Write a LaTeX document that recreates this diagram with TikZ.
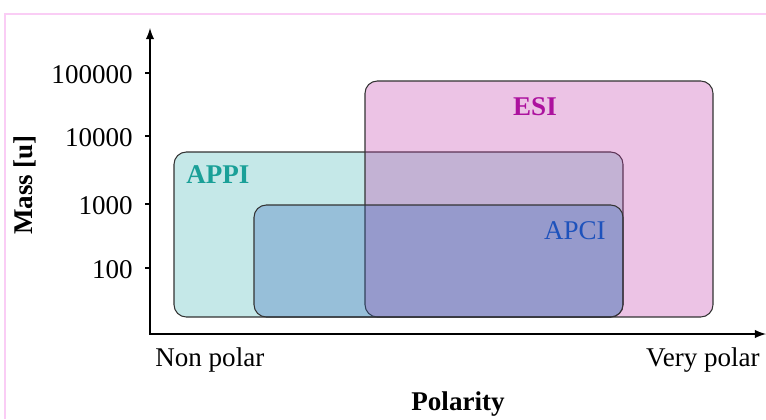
\documentclass[tikz,border=0pt]{standalone}
\usepackage{fontspec}
\setmainfont{Liberation Serif}
\usetikzlibrary{arrows}

\definecolor{appifill}{RGB}{62,178,178}
\definecolor{esifill}{RGB}{192,55,168}
\definecolor{apcifill}{RGB}{47,99,185}
\definecolor{appitext}{RGB}{26,160,152}
\definecolor{esitext}{RGB}{172,18,158}
\definecolor{apcitext}{RGB}{30,82,188}
\definecolor{framepink}{RGB}{250,205,245}

\newcommand{\chartfont}{\fontsize{15.4}{18}\selectfont}

\tikzstyle{region} = [
    rounded corners=7pt,
    draw=black!80,
    line width=0.6pt,
    fill opacity=0.3
]
\tikzstyle{axis} = [line width=1.2pt, latex-latex]
\tikzstyle{ticklabel} = [anchor=east, inner sep=0pt]
\tikzstyle{axislabel} = [inner sep=0pt, font=\chartfont\bfseries]
\tikzstyle{method} = [inner sep=0pt]

\begin{document}
\begin{tikzpicture}[x=0.02cm, y=-0.02cm, font=\chartfont]

\useasboundingbox (0,0) rectangle (766,419);

% frame
\draw [framepink, line width=1.1pt] (5,419) -- (5,14) -- (766,14);

% axes
\coordinate (ytop) at (150,28);
\coordinate (origin) at (150,334);
\coordinate (xend) at (766,334);
\draw [axis] (ytop) -- (origin) -- (xend);

\foreach \y/\txt in {73/100000, 136/10000, 204/1000, 268/100} {
    \draw [line width=0.8pt] (145,\y) -- (150,\y);
    \node (m\txt) [ticklabel] at (133,\y+2) {\txt};
}

% regions
\draw [region, fill=appifill] (174,152) rectangle (623,317);
\draw [region, fill=esifill] (365,81) rectangle (713,317);
\draw [region, fill=apcifill] (254,205) rectangle (623,317);

\node (appi) [method, anchor=base west, font=\chartfont\bfseries, text=appitext] at (186,183) {APPI};
\node (esi) [method, anchor=base, font=\chartfont\bfseries, text=esitext] at (535,115) {ESI};
\node (apci) [method, anchor=base east, text=apcitext] at (606,239) {APCI};

% labels
\node (mass) [axislabel, rotate=90] at (25,185) {Mass [u]};
\node (nonpolar) [method, anchor=base west] at (155,366) {Non polar};
\node (verypolar) [method, anchor=base east] at (760,366) {Very polar};
\node (polarity) [axislabel, anchor=base] at (458,410) {Polarity};

\end{tikzpicture}
\end{document}
